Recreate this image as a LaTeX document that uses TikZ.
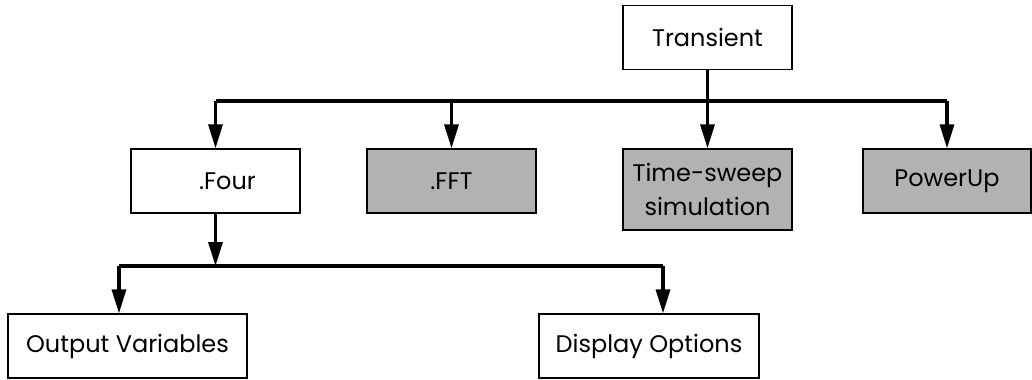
\documentclass[tikz,border=0pt]{standalone}
\usepackage{fontspec}
\setmainfont{Poppins}
\usetikzlibrary{arrows.meta, positioning}
\tikzstyle{box} = [draw=black, line width=0.9pt, rectangle, minimum width=126.75pt, minimum height=48pt, inner sep=2pt, align=center, font=\fontsize{18}{21}\selectfont]
\tikzstyle{greybox} = [box, fill=gray!60]
\tikzstyle{arrow} = [line width=2.4pt, -{Triangle[length=18pt,width=10.5pt]}, draw=black]
\tikzstyle{bus} = [line width=2.4pt, draw=black]

\begin{document}
\begin{tikzpicture}[x=0.75pt,y=-0.75pt]
        \useasboundingbox (0,0) rectangle (1032,379);
        \node (trans) [box] at (707.5,37.5) {Transient};
        \node (four) [box] at (215.5,181) {\hspace*{18pt}.Four};
        \node (fft) [greybox] at (451.5,181) {.FFT};
        \node (tsim) [greybox, minimum height=60.75pt, font=\fontsize{18}{25}\selectfont] at (707.5,189.5) {Time-sweep\\simulation};
        \node (pwr) [greybox, minimum width=126pt] at (947,181) {PowerUp};
        \node (outv) [box, minimum width=179.25pt] at (127.5,346) {Output Variables};
        \node (disp) [box, minimum width=165pt] at (649,346) {Display Options};

        \coordinate (busA) at (0,101);
        \coordinate (busB) at (0,266);

        % first level
        \draw[bus] (four.north |- busA) -- (pwr.north |- busA);
        \draw[arrow] (trans.south) -- (tsim.north);
        \draw[arrow] (four.north |- busA) -- (four.north);
        \draw[arrow] (fft.north |- busA) -- (fft.north);
        \draw[arrow] (pwr.north |- busA) -- (pwr.north);

        % second level
        \draw[arrow] (four.south) -- (four.south |- busB);
        \draw[bus] ([xshift=-6.4pt]outv.north |- busB) -- ([xshift=10.5pt]disp.north |- busB);
        \draw[arrow] ([xshift=-6.4pt]outv.north |- busB) -- ([xshift=-6.4pt]outv.north);
        \draw[arrow] ([xshift=10.5pt]disp.north |- busB) -- ([xshift=10.5pt]disp.north);
    \end{tikzpicture}
\end{document}
